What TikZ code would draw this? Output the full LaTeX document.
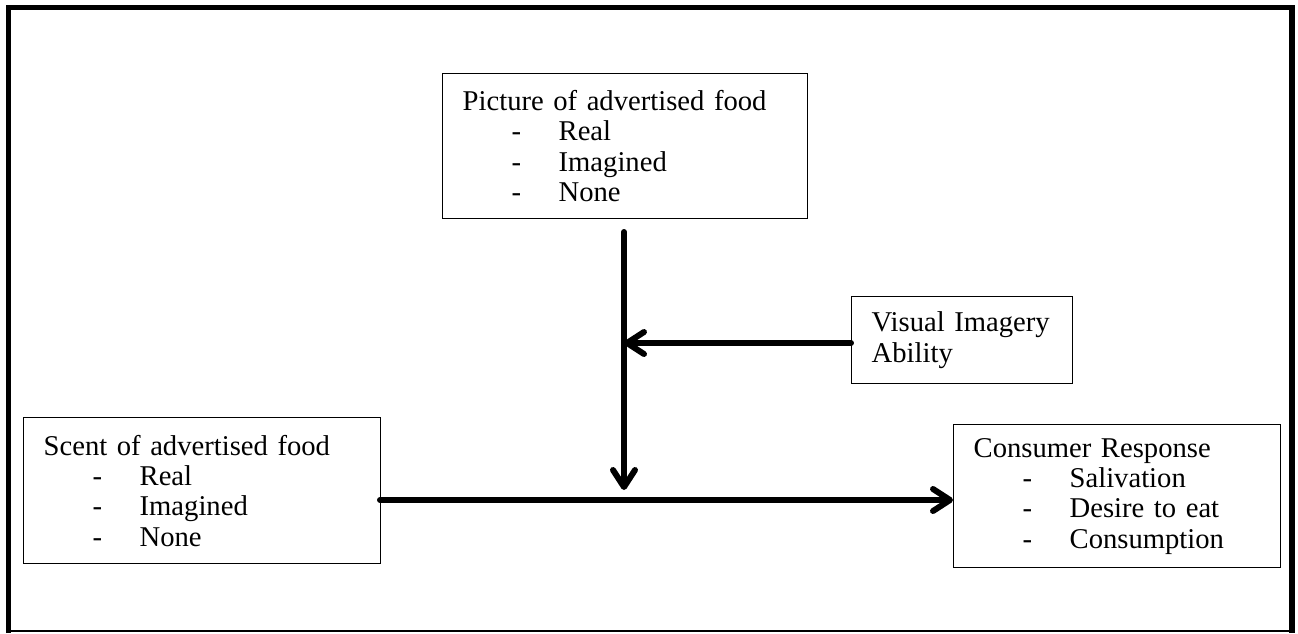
\documentclass[tikz,border=0pt]{standalone}
\usepackage{fontspec}
\setmainfont{Liberation Serif}
\usetikzlibrary{arrows.meta}

\newcommand{\itm}[1]{\hspace*{0.98cm}\makebox[0.94cm][l]{-}#1}
\newcommand{\boxfont}{\fontsize{16.3pt}{17.3pt}\selectfont}

\tikzset{
  box/.style={draw, line width=0.8pt, anchor=north west, align=left,
    inner xsep=0.4cm, inner ysep=0pt, font=\boxfont},
  flow/.style={line width=3.4pt, line cap=round,
    -{Straight Barb[length=3.4mm,width=4.4mm,round]}},
  frame/.style={line width=2.9pt}
}

\begin{document}
\begin{tikzpicture}[x=0.02cm,y=-0.02cm]
    \useasboundingbox (0,0) rectangle (1298,633);

    % outer frame
    \draw[frame] (8.5,633) -- (8.5,7.5) -- (1292,7.5) -- (1292,633);
    \draw[line width=0.6pt] (6,631) -- (1294,631);

    \node[box, text width=6.5cm, minimum height=2.9cm] (pic) at (442,73) {Picture of advertised food\\
      \itm{Real}\\
      \itm{Imagined}\\
      \itm{None}};

    \node[box, text width=3.62cm, minimum height=1.74cm] (vis) at (851,296) {Visual Imagery\\
      Ability};

    \node[box, text width=6.34cm, minimum height=2.92cm] (scent) at (23,417) {Scent of advertised food\\
      \itm{Real}\\
      \itm{Imagined}\\
      \itm{None}};

    \node[box, text width=5.74cm, minimum height=2.86cm] (resp) at (953,424) {Consumer Response\\
      \itm{Salivation}\\
      \itm{Desire to eat}\\
      \itm{Consumption}};

    \coordinate (vtop) at (624,232);
    \coordinate (vtip) at (624,490);
    \coordinate (hl) at (380,500);

    \draw[flow] (vtop) -- (vtip);
    \draw[flow] (vis.west |- 0,343) -- (vtop |- 0,343);
    \draw[flow] (hl) -- (hl -| resp.west);
\end{tikzpicture}
\end{document}
